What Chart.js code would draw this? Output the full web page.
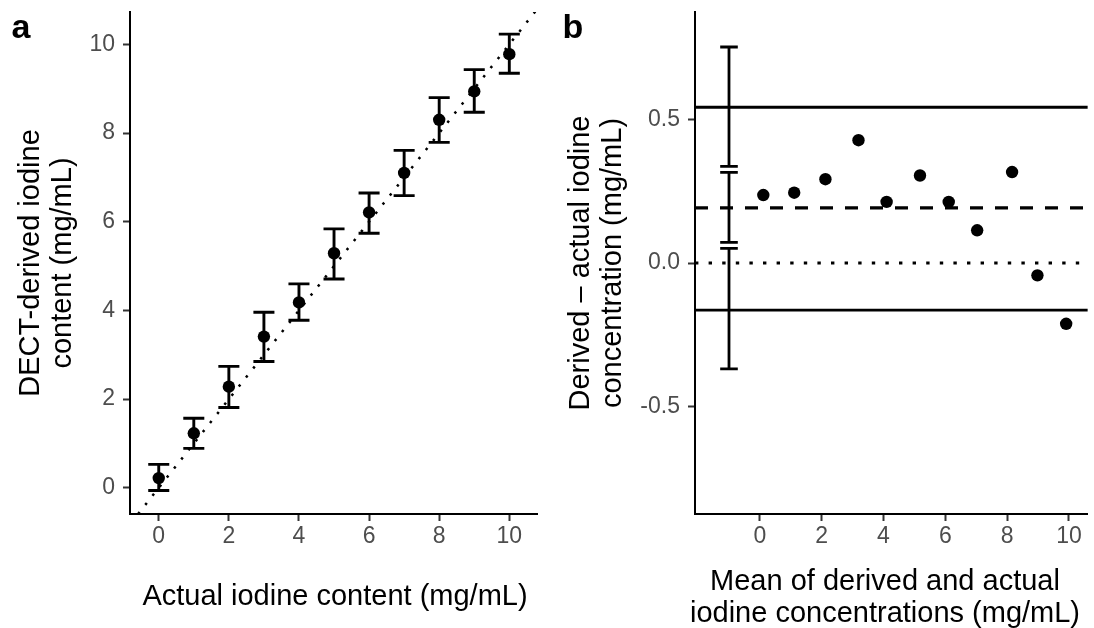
<!DOCTYPE html>
<html>
<head>
<meta charset="utf-8">
<script src="https://cdn.jsdelivr.net/npm/chart.js@4/dist/chart.umd.min.js"></script>
<style>
html,body{margin:0;padding:0;background:#fff;}
#wrap{position:relative;width:1094px;height:628px;overflow:hidden;font-family:"Liberation Sans",Arial,sans-serif;background:#fff;}
canvas{position:absolute;top:0;}
#ca{left:0;}
#cb{left:545px;}
.lbl{position:absolute;font-weight:bold;font-size:34px;line-height:34px;color:#000;}
.tt{position:absolute;font-size:29px;line-height:32px;color:#000;text-align:center;white-space:nowrap;}
.rot{transform:rotate(-90deg);transform-origin:50% 50%;}
</style>
</head>
<body>
<div id="wrap">
  <canvas id="ca" width="545" height="628"></canvas>
  <canvas id="cb" width="549" height="628"></canvas>
  <div class="lbl" style="left:11.5px;top:8.7px;">a</div>
  <div class="lbl" style="left:562.6px;top:8.7px;">b</div>
  <div class="tt rot" style="left:-205px;top:231px;width:500px;height:64px;">DECT-derived iodine<br>content (mg/mL)</div>
  <div class="tt rot" style="left:345.3px;top:231px;width:500px;height:64px;">Derived – actual iodine<br>concentration (mg/mL)</div>
  <div class="tt" style="left:35px;top:579px;width:600px;">Actual iodine content (mg/mL)</div>
  <div class="tt" style="left:585px;top:564px;width:600px;">Mean of derived and actual<br>iodine concentrations (mg/mL)</div>
</div>
<script>
// ---------- Panel a data ----------
const actualA   = [0, 1, 2, 3, 4, 5, 6, 7, 8, 9, 10];
const derivedA  = [0.22, 1.23, 2.28, 3.41, 4.18, 5.29, 6.21, 7.10, 8.30, 8.94, 9.78];
const lowerA    = [-0.06, 0.89, 1.81, 2.85, 3.78, 4.71, 5.74, 6.59, 7.79, 8.47, 9.35];
const upperA    = [0.53, 1.57, 2.74, 3.96, 4.60, 5.84, 6.65, 7.61, 8.80, 9.43, 10.23];
const xTicksA   = [0, 2, 4, 6, 8, 10];
const xTickLabelsA = ['0', '2', '4', '6', '8', '10'];
const yTicksA   = [0, 2, 4, 6, 8, 10];
const yTickLabelsA = ['0', '2', '4', '6', '8', '10'];
const xRangeA = [-0.82, 10.79];
const yRangeA = [-0.59, 10.73];

// ---------- Panel b data ----------
const meanB  = [0.11, 1.11, 2.12, 3.19, 4.10, 5.18, 6.11, 7.03, 8.16, 8.98, 9.91];
const diffB  = [0.237, 0.245, 0.292, 0.428, 0.213, 0.305, 0.213, 0.114, 0.317, -0.043, -0.212];
const biasB = 0.192;
const upperLoA = 0.543;
const lowerLoA = -0.164;
const ciX = [-1, -1, -1];
const ciLow  = [0.337, 0.072, -0.369];
const ciHigh = [0.753, 0.316, 0.051];
const xTicksB = [0, 2, 4, 6, 8, 10];
const xTickLabelsB = ['0', '2', '4', '6', '8', '10'];
const yTicksB = [-0.5, 0, 0.5];
const yTickLabelsB = ['-0.5', '0.0', '0.5'];
const xRangeB = [-2.10, 10.61];
const yRangeB = [-0.875, 0.875];

// ---------- styling ----------
const FONT = '"Liberation Sans", Arial, sans-serif';
Chart.defaults.font.family = FONT;

function errorBarPoints(xs, lo, hi, half) {
  const pts = [];
  xs.forEach((x, i) => {
    pts.push({x: x - half, y: hi[i]}, {x: x + half, y: hi[i]}, {x: x, y: null});
    pts.push({x: x, y: hi[i]}, {x: x, y: lo[i]}, {x: x, y: null});
    pts.push({x: x - half, y: lo[i]}, {x: x + half, y: lo[i]}, {x: x, y: null});
  });
  return pts;
}

function axis(range, ticks, labels, fixW, fixH) {
  return {
    type: 'linear',
    min: range[0], max: range[1],
    afterBuildTicks: s => { s.ticks = ticks.map(v => ({value: v})); },
    afterFit: s => {
      if (fixW != null) s.width = fixW;
      if (fixH != null) s.height = fixH;
      s.paddingLeft = 0; s.paddingRight = 0; s.paddingTop = 0; s.paddingBottom = 0;
    },
    ticks: {
      color: '#4D4D4D',
      font: {family: FONT, size: 23},
      padding: fixW != null ? 8 : 2,
      autoSkip: false, maxRotation: 0, minRotation: 0,
      callback: (v, i) => labels[i]
    },
    grid: {display: true, drawOnChartArea: false, drawTicks: true, tickLength: 7, tickColor: '#333333', tickWidth: 2},
    border: {display: true, color: '#000000', width: 2}
  };
}

const commonOpts = {
  responsive: false, animation: false, devicePixelRatio: 1, events: [],
  plugins: {legend: {display: false}, tooltip: {enabled: false}}
};

// ---------- Chart a ----------
new Chart(document.getElementById('ca'), {
  type: 'scatter',
  data: {
    datasets: [
      {
        data: actualA.map((x, i) => ({x: x, y: derivedA[i]})),
        pointRadius: 6.2, pointBackgroundColor: '#000', pointBorderWidth: 0, showLine: false
      },
      {
        data: errorBarPoints(actualA, lowerA, upperA, 0.3),
        showLine: true, spanGaps: false, pointRadius: 0, borderColor: '#000', borderWidth: 2.9,
        borderCapStyle: 'butt', tension: 0
      },
      {
        data: [{x: -1, y: -1}, {x: 11, y: 11}],
        showLine: true, pointRadius: 0, borderColor: '#000', borderWidth: 2.5,
        borderDash: [2.5, 9.1], borderCapStyle: 'butt'
      }
    ]
  },
  options: Object.assign({}, commonOpts, {
    layout: {padding: {left: 0, right: 8, top: 12, bottom: 0}},
    scales: {
      x: axis(xRangeA, xTicksA, xTickLabelsA, null, 114),
      y: axis(yRangeA, yTicksA, yTickLabelsA, 130, null)
    }
  })
});

// ---------- Chart b ----------
new Chart(document.getElementById('cb'), {
  type: 'scatter',
  data: {
    datasets: [
      {
        data: meanB.map((x, i) => ({x: x, y: diffB[i]})),
        pointRadius: 6.2, pointBackgroundColor: '#000', pointBorderWidth: 0, showLine: false
      },
      {
        data: errorBarPoints(ciX, ciLow, ciHigh, 0.285),
        showLine: true, spanGaps: false, pointRadius: 0, borderColor: '#000', borderWidth: 2.8,
        borderCapStyle: 'butt', tension: 0
      },
      {
        data: [{x: xRangeB[0], y: upperLoA}, {x: xRangeB[1], y: upperLoA}, {x: xRangeB[1], y: null},
               {x: xRangeB[0], y: lowerLoA}, {x: xRangeB[1], y: lowerLoA}],
        showLine: true, spanGaps: false, pointRadius: 0, borderColor: '#000', borderWidth: 2.8
      },
      {
        data: [{x: xRangeB[0], y: biasB}, {x: xRangeB[1], y: biasB}],
        showLine: true, pointRadius: 0, borderColor: '#000', borderWidth: 3.2,
        borderDash: [13, 12], borderCapStyle: 'butt'
      },
      {
        data: [{x: xRangeB[0], y: 0}, {x: xRangeB[1], y: 0}],
        showLine: true, pointRadius: 0, borderColor: '#000', borderWidth: 3.2,
        borderDash: [3.4, 10.2], borderCapStyle: 'butt'
      }
    ]
  },
  options: Object.assign({}, commonOpts, {
    layout: {padding: {left: 0, right: 3, top: 12, bottom: 0}},
    scales: {
      x: axis(xRangeB, xTicksB, xTickLabelsB, null, 114),
      y: axis(yRangeB, yTicksB, yTickLabelsB, 150, null)
    }
  })
});
</script>
</body>
</html>
